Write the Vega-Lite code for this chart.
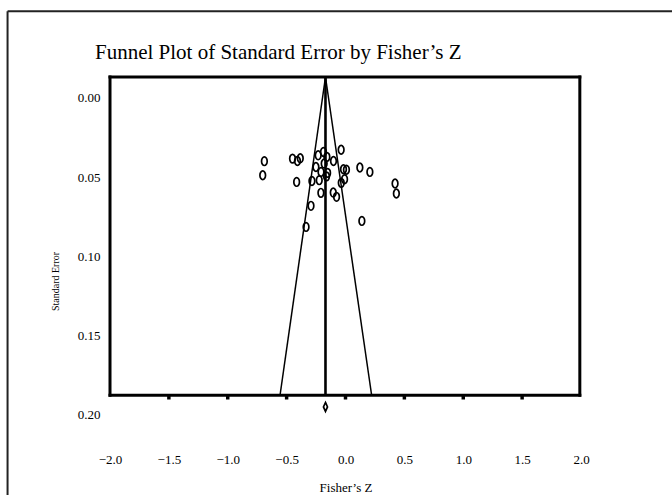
{
  "$schema": "https://vega.github.io/schema/vega-lite/v6.json",
  "autosize": {"type": "none"},
  "width": 471,
  "height": 339,
  "padding": {"left": 110, "top": 77, "right": 91, "bottom": 79},
  "background": "white",
  "config": {"view": {"stroke": null}},
  "title": {
    "text": "Funnel Plot of Standard Error by Fisher’s Z",
    "font": "Liberation Serif",
    "fontSize": 21,
    "fontWeight": "normal",
    "color": "black",
    "anchor": "start",
    "frame": "group",
    "baseline": "alphabetic",
    "dx": -15,
    "dy": 87,
    "offset": 17
  },
  "datasets": {
    "frame": [
      {"x": -2.87, "y": -0.0547, "x2": 3.3, "y2": -0.0547},
      {"x": -2.87, "y": -0.0547, "x2": -2.87, "y2": 0.3}
    ],
    "box": [
      {"x": -2, "y": -0.0132, "x2": 1.99, "y2": -0.0132},
      {"x": -2, "y": 0.1876, "x2": 1.99, "y2": 0.1876},
      {"x": -2, "y": -0.0132, "x2": -2, "y2": 0.1876},
      {"x": 1.99, "y": -0.0132, "x2": 1.99, "y2": 0.1876}
    ],
    "center": [
      {"x": -0.17, "y": -0.0132, "x2": -0.17, "y2": 0.1876}
    ],
    "funnel": [
      {"x": -0.17, "y": -0.0132, "x2": -0.556, "y2": 0.1876},
      {"x": -0.17, "y": -0.0132, "x2": 0.222, "y2": 0.1876}
    ],
    "boxticks": [
      {"x": -1.5, "y": 0.1892}, {"x": -1.0, "y": 0.1892}, {"x": -0.5, "y": 0.1892},
      {"x": 0.0, "y": 0.1892}, {"x": 0.5, "y": 0.1892}, {"x": 1.0, "y": 0.1892}, {"x": 1.5, "y": 0.1892}
    ],
    "studies": [
      {"x": -0.689, "y": 0.0399}, {"x": -0.703, "y": 0.0488}, {"x": -0.450, "y": 0.0383},
      {"x": -0.408, "y": 0.0398}, {"x": -0.384, "y": 0.0381}, {"x": -0.415, "y": 0.0530},
      {"x": -0.285, "y": 0.0524}, {"x": -0.223, "y": 0.0519}, {"x": -0.209, "y": 0.0599},
      {"x": -0.293, "y": 0.0681}, {"x": -0.335, "y": 0.0814}, {"x": -0.251, "y": 0.0436},
      {"x": -0.232, "y": 0.0362}, {"x": -0.187, "y": 0.0341}, {"x": -0.181, "y": 0.0414},
      {"x": -0.158, "y": 0.0372}, {"x": -0.208, "y": 0.0467}, {"x": -0.152, "y": 0.0473},
      {"x": -0.161, "y": 0.0495}, {"x": -0.102, "y": 0.0398}, {"x": -0.037, "y": 0.0327},
      {"x": -0.017, "y": 0.0450}, {"x": 0.008, "y": 0.0453}, {"x": -0.008, "y": 0.0513},
      {"x": -0.036, "y": 0.0536}, {"x": 0.122, "y": 0.0439}, {"x": 0.207, "y": 0.0467},
      {"x": -0.104, "y": 0.0597}, {"x": -0.076, "y": 0.0624}, {"x": 0.421, "y": 0.0540},
      {"x": 0.432, "y": 0.0603}, {"x": 0.139, "y": 0.0776}
    ],
    "summary": [
      {"x": -0.17, "y": 0.195}
    ]
  },
  "encoding": {
    "x": {
      "field": "x", "type": "quantitative",
      "scale": {"domain": [-2, 2], "nice": false, "zero": false},
      "axis": {
        "title": "Fisher’s Z",
        "values": [-2, -1.5, -1, -0.5, 0, 0.5, 1, 1.5, 2],
        "format": ".1f",
        "domain": false, "ticks": false, "grid": false,
        "labelFlush": false,
        "labelFont": "Liberation Serif", "labelFontSize": 13, "labelColor": "black",
        "labelBaseline": "middle", "labelPadding": 43,
        "titleFont": "Liberation Serif", "titleFontSize": 13, "titleFontWeight": "normal",
        "titleColor": "black", "titleBaseline": "alphabetic", "titleY": 75
      }
    },
    "y": {
      "field": "y", "type": "quantitative",
      "scale": {"domain": [-0.0132, 0.2007], "reverse": true, "nice": false, "zero": false},
      "axis": {
        "title": "Standard Error",
        "values": [0, 0.05, 0.1, 0.15, 0.2],
        "format": ".2f",
        "domain": false, "ticks": false, "grid": false,
        "labelFlush": false,
        "labelFont": "Liberation Serif", "labelFontSize": 13, "labelColor": "black",
        "labelPadding": 10,
        "titleFont": "Liberation Serif", "titleFontSize": 10, "titleFontWeight": "normal",
        "titleColor": "black", "titleAngle": 270, "titleAlign": "center", "titleBaseline": "middle",
        "titleX": -55, "titleY": 204
      }
    }
  },
  "layer": [
    {
      "data": {"name": "frame"},
      "mark": {"type": "rule", "color": "#222222", "strokeWidth": 2},
      "encoding": {"x2": {"field": "x2"}, "y2": {"field": "y2"}}
    },
    {
      "data": {"name": "box"},
      "mark": {"type": "rule", "color": "black", "strokeWidth": 3, "strokeCap": "square"},
      "encoding": {"x2": {"field": "x2"}, "y2": {"field": "y2"}}
    },
    {
      "data": {"name": "center"},
      "mark": {"type": "rule", "color": "black", "strokeWidth": 2.6},
      "encoding": {"x2": {"field": "x2"}, "y2": {"field": "y2"}}
    },
    {
      "data": {"name": "funnel"},
      "mark": {"type": "rule", "color": "black", "strokeWidth": 1.5},
      "encoding": {"x2": {"field": "x2"}, "y2": {"field": "y2"}}
    },
    {
      "data": {"name": "boxticks"},
      "mark": {"type": "point", "shape": "square", "filled": true, "color": "black", "size": 12, "opacity": 1}
    },
    {
      "data": {"name": "studies"},
      "mark": {
        "type": "point",
        "shape": "M0,-1C0.359,-1 0.65,-0.552 0.65,0C0.65,0.552 0.359,1 0,1C-0.359,1 -0.65,0.552 -0.65,0C-0.65,-0.552 -0.359,-1 0,-1Z",
        "filled": false, "color": "black", "strokeWidth": 1.7, "size": 75, "opacity": 1
      }
    },
    {
      "data": {"name": "summary"},
      "mark": {
        "type": "point",
        "shape": "M0,-1L0.45,0L0,1L-0.45,0Z",
        "filled": false, "color": "black", "strokeWidth": 1.7, "size": 81, "opacity": 1
      }
    }
  ]
}
